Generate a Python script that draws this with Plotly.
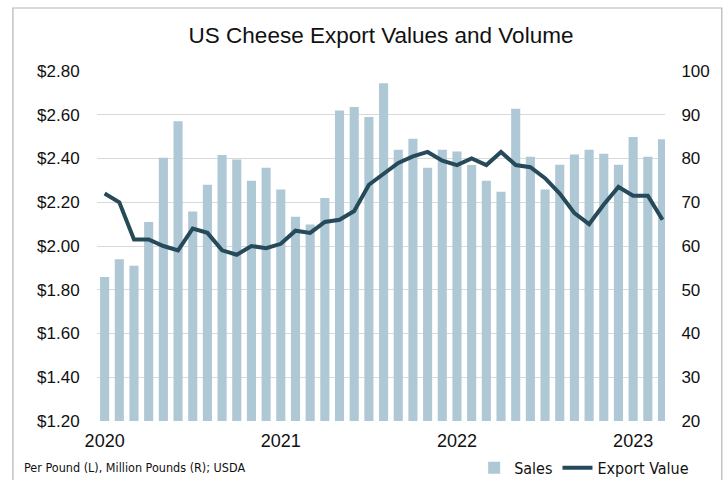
import plotly.graph_objects as go

months = [f"{m} {y}" for y in (2020, 2021, 2022, 2023)
          for m in ("Jan", "Feb", "Mar", "Apr", "May", "Jun", "Jul", "Aug", "Sep", "Oct", "Nov", "Dec")][:39]

sales = [52.9, 57.0, 55.5, 65.5, 80.2, 88.5, 67.9, 74.0, 80.8, 79.8, 74.9, 77.9,
         72.9, 66.7, 64.9, 71.0, 91.0, 91.8, 89.5, 97.2, 82.0, 84.5, 77.9, 82.0,
         81.6, 78.5, 74.9, 72.4, 91.4, 80.4, 72.9, 78.6, 80.9, 82.0, 81.1, 78.6,
         84.9, 80.4, 84.4]

export_value = [2.24, 2.20, 2.03, 2.03, 2.00, 1.98, 2.08, 2.06, 1.98, 1.96, 2.00, 1.99,
                2.01, 2.07, 2.06, 2.11, 2.12, 2.16, 2.28, 2.33, 2.38, 2.41, 2.43, 2.39,
                2.37, 2.40, 2.37, 2.43, 2.37, 2.36, 2.31, 2.24, 2.15, 2.10, 2.19, 2.27,
                2.23, 2.23, 2.12]

year_ticks = ["Jan 2020", "Jan 2021", "Jan 2022", "Jan 2023"]
year_labels = ["2020", "2021", "2022", "2023"]

AXIS_FONT = dict(family="Liberation Sans, Arial, sans-serif", size=17, color="#111111")
NARROW = "DejaVu Sans Condensed, Liberation Sans Narrow, Arial Narrow, sans-serif"

fig = go.Figure()
fig.add_trace(go.Bar(x=months, y=sales, name="Sales", marker_color="#aec8d5",
                     marker_line_width=0, width=0.62, yaxis="y"))
fig.add_trace(go.Scatter(x=months, y=export_value, name="Export Value", mode="lines",
                         line=dict(color="#264a59", width=4), yaxis="y2"))

fig.update_layout(
    width=723, height=480,
    margin=dict(l=97, r=58, t=71, b=59, autoexpand=False),
    paper_bgcolor="white", plot_bgcolor="white",
    title=dict(text="US Cheese Export Values and Volume", x=0.5, xref="paper",
               y=1 - 35 / 480, yref="container", yanchor="middle", xanchor="center",
               font=dict(family="Liberation Sans, Arial, sans-serif", size=22.5, color="#111111")),
    xaxis=dict(type="category", range=[-0.52, 38.17], tickvals=year_ticks, ticktext=year_labels,
               showgrid=False, showline=False, zeroline=False,
               ticks="outside", ticklen=3, tickcolor="rgba(0,0,0,0)",
               tickfont=dict(family="Liberation Sans, Arial, sans-serif", size=18, color="#111111")),
    yaxis=dict(side="right", range=[20, 100], dtick=10, showgrid=True, gridcolor="#d9d9d9",
               gridwidth=1, zeroline=False, showline=False,
               ticks="outside", ticklen=12, tickcolor="rgba(0,0,0,0)", tickfont=AXIS_FONT),
    yaxis2=dict(side="left", overlaying="y", range=[1.2, 2.8], dtick=0.2, tickformat="$.2f",
                showgrid=False, zeroline=False, showline=False,
                ticks="outside", ticklen=13, tickcolor="rgba(0,0,0,0)", tickfont=AXIS_FONT),
    bargap=0.38,
    showlegend=True,
    legend=dict(orientation="h", x=0.664, xanchor="left", y=-0.134, yanchor="middle",
                font=dict(family=NARROW, size=16, color="#111111"),
                bgcolor="rgba(0,0,0,0)", itemwidth=30, traceorder="normal"),
    shapes=[dict(type="rect", xref="paper", yref="paper", x0=-0.148, x1=1.1, y0=-0.3, y1=1.18,
                 line=dict(color="#b5b5b5", width=1.2), fillcolor="rgba(0,0,0,0)", layer="below")],
    annotations=[dict(text="Per Pound (L), Million Pounds (R); USDA", xref="paper", yref="paper",
                      x=(22 - 97) / 568, y=-0.134, xanchor="left", yanchor="middle", showarrow=False,
                      font=dict(family=NARROW, size=12.5, color="#111111"))],
)

fig.write_html("out.html", config={"displayModeBar": False},
               post_script="document.body.style.margin='0';document.body.style.overflow='hidden';")
